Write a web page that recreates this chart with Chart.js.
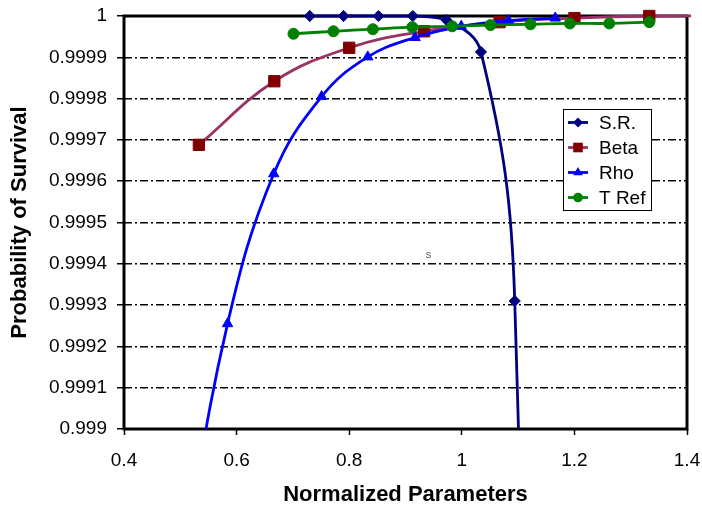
<!DOCTYPE html>
<html>
<head>
<meta charset="utf-8">
<script src="https://cdn.jsdelivr.net/npm/chart.js@4"></script>
<style>
  body { margin: 0; background: #fff; }
  #wrap { width: 702px; height: 508px; }
</style>
</head>
<body>
<div id="wrap"><canvas id="myChart" width="702" height="508"></canvas></div>
<script>
// values
const srX = [0.730, 0.790, 0.852, 0.913, 0.973, 1.034, 1.094, 1.155]
const srY = [1.0, 1.0, 1.0, 1.0, 0.99999, 0.999913, 0.99931, 0.9945]

const betaX = [0.533, 0.667, 0.800, 0.933, 1.067, 1.200, 1.333, 1.467]
const betaY = [0.999688, 0.999842, 0.999923, 0.999963, 0.999985, 0.999995, 1.0, 1.0]

const rhoX = [0.501, 0.584, 0.666, 0.751, 0.833, 0.917, 0.999, 1.083, 1.166]
const rhoY = [0.99865, 0.999255, 0.999618, 0.999805, 0.999901, 0.999948, 0.999975, 0.999989, 0.999995]

const trefX = [0.701, 0.772, 0.842, 0.912, 0.983, 1.051, 1.122, 1.192, 1.262, 1.333]
const trefY = [0.999957, 0.999963, 0.999968, 0.999973, 0.999975, 0.999978, 0.99998, 0.999982, 0.999982, 0.999985]

const xTicks = [0.4, 0.6, 0.8, 1, 1.2, 1.4]
const yTicks = [0.999, 0.9991, 0.9992, 0.9993, 0.9994, 0.9995, 0.9996, 0.9997, 0.9998, 0.9999, 1]

const seriesNames = ['S.R.', 'Beta', 'Rho', 'T Ref']

const FONT = "'Liberation Sans', Arial, sans-serif"

const toPoints = (xs, ys) => xs.map((x, i) => ({ x: x, y: ys[i] }))

const clipBox = { left: 10, top: 10, right: 4, bottom: 0 }

const makeSet = (label, xs, ys, line, mark, style, radius, order) => ({
    label,
    data: toPoints(xs, ys),
    borderColor: line,
    backgroundColor: mark,
    pointBackgroundColor: mark,
    pointBorderColor: mark,
    pointBorderWidth: 1,
    pointStyle: style,
    pointRadius: radius,
    borderWidth: 2.8,
    tension: 0.4,
    clip: clipBox,
    order
})

const datasets = [
    makeSet(seriesNames[0], srX, srY, '#000080', '#000080', 'rectRot', 5.6, 4),
    makeSet(seriesNames[1], betaX, betaY, '#993366', '#800000', 'rect', 8, 3),
    makeSet(seriesNames[2], rhoX, rhoY, '#0000ff', '#0000ff', 'triangle', 6, 2),
    makeSet(seriesNames[3], trefX, trefY, '#008000', '#008000', 'circle', 5.5, 1)
]

// frame round the plot area, drawn under the lines
const frame = {
    id: 'frame',
    beforeDatasetsDraw(chart) {
        const { ctx, chartArea: a } = chart
        ctx.save()
        ctx.strokeStyle = '#000'
        ctx.lineWidth = 3
        ctx.strokeRect(a.left, a.top, a.right - a.left, a.bottom - a.top)
        ctx.restore()
    }
}

const drawMarker = (ctx, style, x, y, r) => {
    ctx.beginPath()
    if (style == 'rectRot') {
        ctx.moveTo(x, y - r); ctx.lineTo(x + r, y); ctx.lineTo(x, y + r); ctx.lineTo(x - r, y)
    } else if (style == 'rect') {
        const s = r * Math.SQRT1_2
        ctx.rect(x - s, y - s, 2 * s, 2 * s)
    } else if (style == 'triangle') {
        ctx.moveTo(x, y - r); ctx.lineTo(x + r * 0.866, y + r * 0.5); ctx.lineTo(x - r * 0.866, y + r * 0.5)
    } else {
        ctx.arc(x, y, r, 0, Math.PI * 2)
    }
    ctx.closePath()
    ctx.fill()
}

// legend box inside the plot
const legendBox = {
    id: 'legendBox',
    afterDraw(chart) {
        const { ctx } = chart
        const bx = 563, by = 109, bw = 88, bh = 101
        ctx.save()
        ctx.fillStyle = '#fff'
        ctx.fillRect(bx, by, bw, bh)
        ctx.strokeStyle = '#000'
        ctx.lineWidth = 1
        ctx.strokeRect(bx + 0.5, by + 0.5, bw, bh)
        const sizes = [5, 6.8, 5.6, 4.8]
        datasets.forEach((ds, i) => {
            const y = by + 13.5 + i * 25
            ctx.strokeStyle = ds.borderColor
            ctx.lineWidth = 2.8
            ctx.beginPath()
            ctx.moveTo(568, y)
            ctx.lineTo(588, y)
            ctx.stroke()
            ctx.fillStyle = ds.pointBackgroundColor
            drawMarker(ctx, ds.pointStyle, 578, y, sizes[i])
            ctx.fillStyle = '#000'
            ctx.font = '19px ' + FONT
            ctx.textBaseline = 'middle'
            ctx.textAlign = 'left'
            ctx.fillText(ds.label, 599, y + 1)
        })
        ctx.restore()
    }
}

// the stray little letter in the middle of the plot
const strayText = {
    id: 'strayText',
    afterDatasetsDraw(chart) {
        const { ctx, scales } = chart
        ctx.save()
        ctx.fillStyle = '#555'
        ctx.font = '11px ' + FONT
        ctx.textBaseline = 'middle'
        ctx.fillText('s', scales.x.getPixelForValue(0.936), scales.y.getPixelForValue(0.999422))
        ctx.restore()
    }
}

const fmt = v => String(+v.toFixed(4))

const config = {
    type: 'line',
    data: { datasets },
    plugins: [frame, strayText, legendBox],
    options: {
        responsive: false,
        animation: false,
        layout: { padding: { left: 0, right: 15, top: 16, bottom: 0 } },
        plugins: {
            legend: { display: false },
            tooltip: { enabled: false }
        },
        scales: {
            x: {
                type: 'linear',
                min: 0.4,
                max: 1.4,
                afterBuildTicks: s => { s.ticks = xTicks.map(v => ({ value: v })) },
                afterFit: s => {
                    s.height = 79
                    s.paddingLeft = 0
                    s.paddingRight = 0
                },
                grid: {
                    drawOnChartArea: false,
                    drawTicks: true,
                    tickLength: 6,
                    tickColor: '#000',
                    tickWidth: 1.5
                },
                border: { display: false },
                ticks: {
                    color: '#000',
                    padding: 14,
                    maxRotation: 0,
                    font: { family: FONT, size: 19 },
                    callback: v => fmt(v)
                },
                title: {
                    display: true,
                    text: 'Normalized Parameters',
                    color: '#000',
                    padding: { top: 0, bottom: 0 },
                    font: { family: FONT, size: 22, weight: 'bold' }
                }
            },
            y: {
                min: 0.999,
                max: 1,
                afterBuildTicks: s => { s.ticks = yTicks.map(v => ({ value: v })) },
                afterFit: s => {
                    s.width = 124
                    s.paddingTop = 0
                    s.paddingBottom = 0
                },
                grid: {
                    color: '#000',
                    lineWidth: 1.5,
                    drawTicks: true,
                    tickLength: 7,
                    tickColor: '#000',
                    tickWidth: 1.5,
                    tickBorderDash: [20, 0]
                },
                border: { display: false, dash: [8, 3, 2, 3] },
                ticks: {
                    color: '#000',
                    padding: 10,
                    font: { family: FONT, size: 19 },
                    callback: v => fmt(v)
                },
                title: {
                    display: true,
                    text: 'Probability of Survival',
                    color: '#000',
                    padding: { top: 7, bottom: 0 },
                    font: { family: FONT, size: 22, weight: 'bold' }
                }
            }
        }
    }
}

const myChart = new Chart(document.querySelector('#myChart').getContext('2d'), config)
</script>
</body>
</html>
